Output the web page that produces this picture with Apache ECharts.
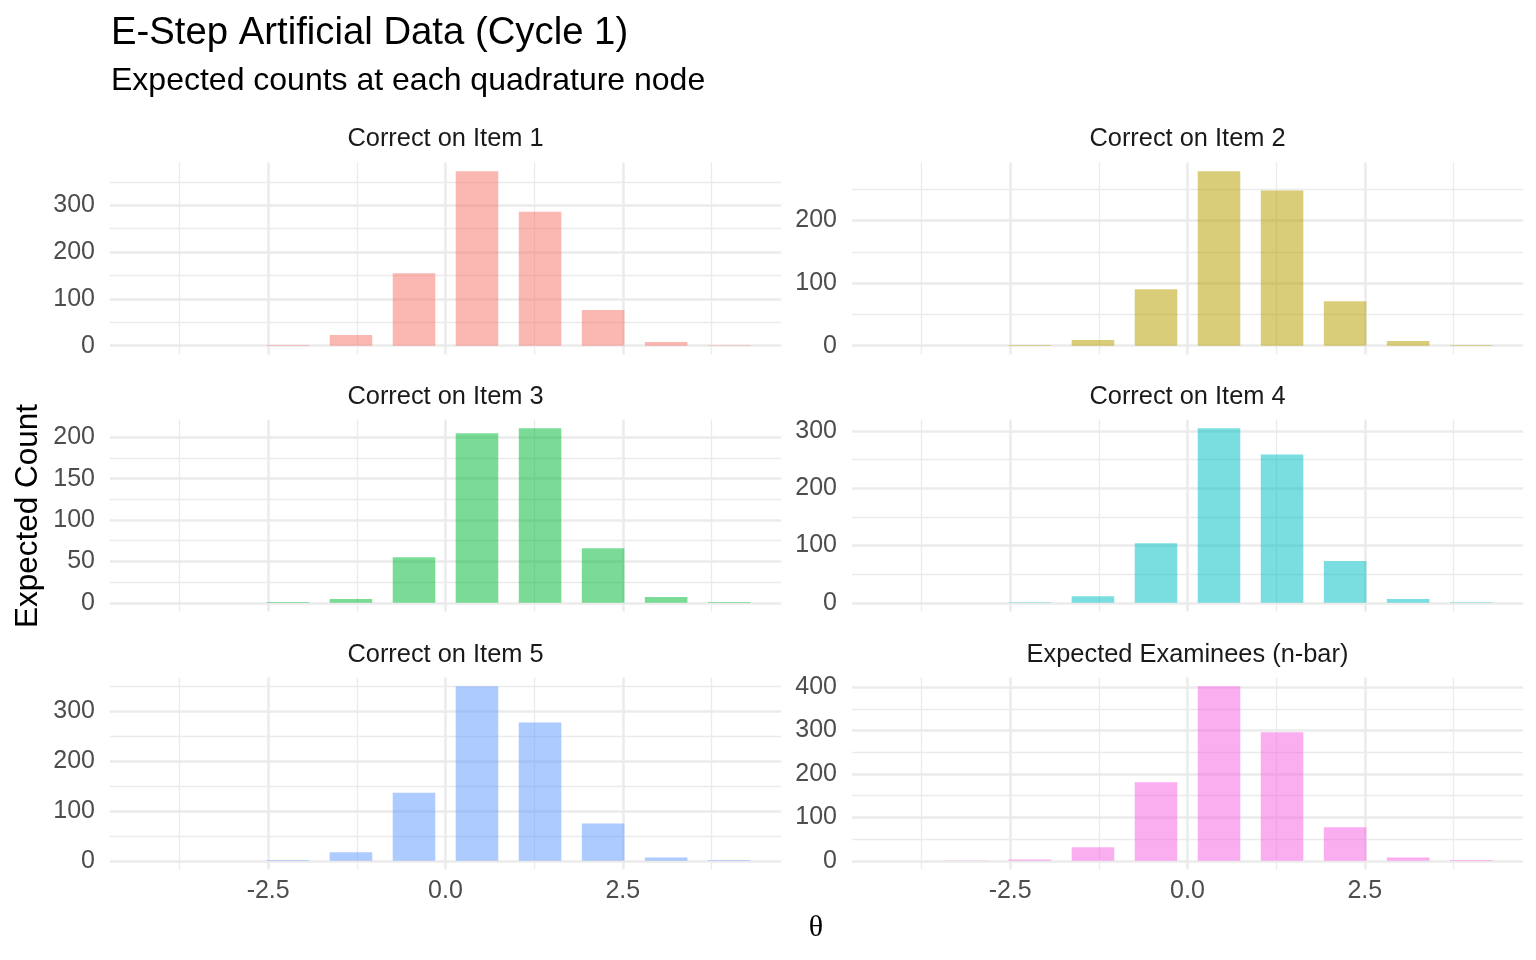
<!DOCTYPE html>
<html><head><meta charset="utf-8">
<script src="https://cdn.jsdelivr.net/npm/echarts@6/dist/echarts.min.js"></script>
<style>html,body{margin:0;padding:0;background:#fff}#c{width:1536px;height:960px}</style>
</head><body><div id="c"></div>
<script>
// quadrature nodes (theta)
const nodes = [-4.000, -3.111, -2.222, -1.333, -0.444, 0.444, 1.333, 2.222, 3.111, 4.000];
const panelTitles = ['Correct on Item 1', 'Correct on Item 2', 'Correct on Item 3', 'Correct on Item 4', 'Correct on Item 5', 'Expected Examinees (n-bar)'];
const item1 = [0, 0, 1.5, 23, 155, 373, 286, 76, 8, 1];
const item2 = [0, 0, 1, 9, 90, 279, 248, 71, 7.5, 1];
const item3 = [0, 0, 1, 4.5, 55, 205, 211, 66, 7, 1];
const item4 = [0, 0, 1, 11.5, 104, 305, 259, 73, 6.5, 1];
const item5 = [0, 0.1, 1.5, 17, 137, 351, 278, 75, 6.5, 1.5];
const nbar  = [0.1, 0.5, 3, 31, 181, 402, 296, 77, 7.5, 1.5];
const xTickValues = [-2.5, 0, 2.5];
const xTickLabels = ['-2.5', '0.0', '2.5'];
const xMinorValues = [-3.75, -1.25, 1.25, 3.75];
const yTicks1 = [0, 100, 200, 300];
const yTicks2 = [0, 100, 200];
const yTicks3 = [0, 50, 100, 150, 200];
const yTicks4 = [0, 100, 200, 300];
const yTicks5 = [0, 100, 200, 300];
const yTicks6 = [0, 100, 200, 300, 400];
const titleText = 'E-Step Artificial Data (Cycle 1)';
const subtitleText = 'Expected counts at each quadrature node';
const yTitle = 'Expected Count';
const xTitle = 'θ';

const seriesVals = [item1, item2, item3, item4, item5, nbar];
const yTickSets = [yTicks1, yTicks2, yTicks3, yTicks4, yTicks5, yTicks6];
const colors = ['#F8766D', '#B79F00', '#00BA38', '#00BFC4', '#619CFF', '#F564E3'];

const barW = 0.6;
const SANS = '"Liberation Sans", Arial, Helvetica, sans-serif';
const colLeft = [110, 852];
const panelW = 671;
const rowTop = [162.4, 419.5, 677.5];
const panelH = 192;
const GRID_COL = '#EBEBEB';

const xLo = nodes[0] - barW / 2, xHi = nodes[nodes.length - 1] + barW / 2;
const xMin = xLo - 0.05 * (xHi - xLo), xMax = xHi + 0.05 * (xHi - xLo);

const grids = [], xAxes = [], yAxes = [], series = [], graphics = [];
for (let i = 0; i < 6; i++) {
  const col = i % 2, row = Math.floor(i / 2);
  const left = colLeft[col], top = rowTop[row];
  grids.push({ left: left, top: top, width: panelW, height: panelH, containLabel: false });
  const vals = seriesVals[i];
  const vmax = Math.max.apply(null, vals);
  const yMin = -0.05 * vmax, yMax = 1.05 * vmax;
  const maj = yTickSets[i];
  const step = maj[1] - maj[0];
  const minor = [];
  for (let k = 0; k < maj.length; k++) {
    const m = maj[k] + step / 2;
    if (m < yMax) minor.push(m);
  }
  const bottomRow = row === 2;
  xAxes.push({
    type: 'value', gridIndex: i, min: xMin, max: xMax,
    axisLine: { show: false },
    axisTick: { show: false, customValues: xTickValues },
    axisLabel: {
      show: bottomRow, customValues: xTickValues, margin: 9,
      color: '#4D4D4D', fontSize: 25, fontFamily: SANS,
      formatter: function (v) { const k = xTickValues.indexOf(v); return k >= 0 ? xTickLabels[k] : ''; }
    },
    splitLine: { show: true, lineStyle: { color: GRID_COL, width: 2.5 } }
  });
  xAxes.push({
    type: 'value', gridIndex: i, min: xMin, max: xMax,
    axisLine: { show: false },
    axisTick: { show: false, customValues: xMinorValues },
    axisLabel: { show: false, customValues: xMinorValues },
    splitLine: { show: true, lineStyle: { color: GRID_COL, width: 1.3 } }
  });
  yAxes.push({
    type: 'value', gridIndex: i, min: yMin, max: yMax,
    axisLine: { show: false },
    axisTick: { show: false, customValues: maj },
    axisLabel: {
      show: true, customValues: maj, margin: 15,
      color: '#4D4D4D', fontSize: 25, fontFamily: SANS,
      formatter: function (v) { return String(Math.round(v)); }
    },
    splitLine: { show: true, lineStyle: { color: GRID_COL, width: 2.5 } }
  });
  yAxes.push({
    type: 'value', gridIndex: i, min: yMin, max: yMax,
    axisLine: { show: false },
    axisTick: { show: false, customValues: minor },
    axisLabel: { show: false, customValues: minor },
    splitLine: { show: true, lineStyle: { color: GRID_COL, width: 1.3 } }
  });
  const color = colors[i];
  series.push({
    type: 'custom', xAxisIndex: 2 * i, yAxisIndex: 2 * i, z: 5,
    data: nodes.map(function (n, k) { return [n, vals[k]]; }),
    encode: { x: 0, y: 1 },
    renderItem: function (params, api) {
      const x = api.value(0), y = api.value(1);
      const a = api.coord([x - barW / 2, y]);
      const b = api.coord([x + barW / 2, 0]);
      return {
        type: 'rect',
        shape: { x: a[0], y: a[1], width: b[0] - a[0], height: b[1] - a[1] },
        style: { fill: color, opacity: 0.52 }
      };
    }
  });
  graphics.push({
    type: 'text', x: left + panelW / 2, y: top - 23,
    style: { text: panelTitles[i], fill: '#1A1A1A', font: '25.4px ' + SANS, textAlign: 'center', textVerticalAlign: 'middle', align: 'center', verticalAlign: 'middle' }
  });
}

graphics.push({
  type: 'text', x: 111, y: 33,
  style: { text: titleText, fill: '#000', font: '38.3px ' + SANS, textAlign: 'left', textVerticalAlign: 'middle', align: 'left', verticalAlign: 'middle' }
});
graphics.push({
  type: 'text', x: 111, y: 81,
  style: { text: subtitleText, fill: '#000', font: '32px ' + SANS, textAlign: 'left', textVerticalAlign: 'middle', align: 'left', verticalAlign: 'middle' }
});
graphics.push({
  type: 'text', x: 28, y: 516, rotation: Math.PI / 2,
  style: { text: yTitle, fill: '#000', font: '31.5px ' + SANS, textAlign: 'center', textVerticalAlign: 'middle', align: 'center', verticalAlign: 'middle' }
});
graphics.push({
  type: 'text', x: 816, y: 928,
  style: { text: xTitle, fill: '#000', font: '30px "Liberation Serif", "DejaVu Serif", serif', textAlign: 'center', textVerticalAlign: 'middle', align: 'center', verticalAlign: 'middle' }
});

const chart = echarts.init(document.getElementById('c'), null, { renderer: 'canvas' });
chart.setOption({
  animation: false,
  backgroundColor: '#ffffff',
  grid: grids, xAxis: xAxes, yAxis: yAxes, series: series, graphic: graphics
});
</script></body></html>
